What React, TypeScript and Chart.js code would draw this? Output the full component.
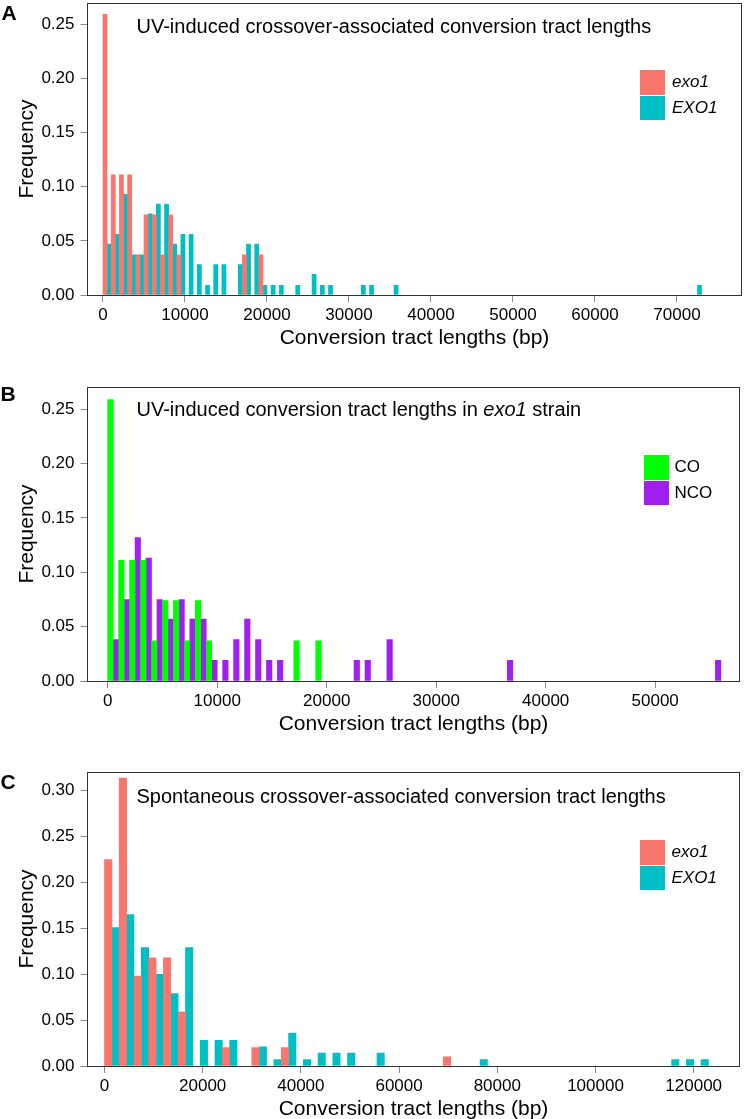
import React, { useEffect, useRef } from "react";
import { Chart, registerables } from "chart.js";

Chart.register(...registerables);

const FONT = '"Liberation Sans", Arial, Helvetica, sans-serif';

// ---------- Panel A: UV-induced crossover-associated (bin = 1000 bp) ----------
const binWidthA = 1000;
const exo1StartsA = [0, 1000, 2000, 3000, 4000, 5000, 6000, 7000, 8000, 9000, 17000, 19000];
const exo1FreqA = [0.259, 0.111, 0.111, 0.111, 0.037, 0.074, 0.074, 0.037, 0.074, 0.037, 0.037, 0.037];
const EXO1StartsA = [0, 1000, 2000, 3000, 4000, 5000, 6000, 7000, 8000, 9000, 10000, 11000, 12000, 13000, 14000, 16000, 17000, 18000, 19000, 20000, 21000, 23000, 25000, 26000, 27000, 31000, 32000, 35000, 72000];
const EXO1FreqA = [0.047, 0.056, 0.093, 0.037, 0.037, 0.075, 0.084, 0.084, 0.047, 0.056, 0.056, 0.028, 0.009, 0.028, 0.028, 0.028, 0.047, 0.047, 0.009, 0.009, 0.009, 0.009, 0.019, 0.009, 0.009, 0.009, 0.009, 0.009, 0.009];
const xTicksA = [0, 10000, 20000, 30000, 40000, 50000, 60000, 70000];
const yTicksA = [0, 0.05, 0.1, 0.15, 0.2, 0.25];

// ---------- Panel B: UV-induced in exo1 strain, CO vs NCO (bin = 1000 bp) ----------
const binWidthB = 1000;
const COStartsB = [0, 1000, 2000, 3000, 4000, 5000, 6000, 7000, 8000, 9000, 17000, 19000];
const COFreqB = [0.259, 0.111, 0.111, 0.111, 0.037, 0.074, 0.074, 0.037, 0.074, 0.037, 0.037, 0.037];
const NCOStartsB = [0, 1000, 2000, 3000, 4000, 5000, 6000, 7000, 8000, 9000, 10000, 11000, 12000, 13000, 14000, 15000, 22000, 23000, 25000, 36000, 55000];
const NCOFreqB = [0.038, 0.075, 0.132, 0.113, 0.075, 0.057, 0.075, 0.057, 0.057, 0.019, 0.019, 0.038, 0.057, 0.038, 0.019, 0.019, 0.019, 0.019, 0.038, 0.019, 0.019];
const xTicksB = [0, 10000, 20000, 30000, 40000, 50000];
const yTicksB = [0, 0.05, 0.1, 0.15, 0.2, 0.25];

// ---------- Panel C: Spontaneous crossover-associated (bin = 3000 bp) ----------
const binWidthC = 3000;
const exo1StartsC = [0, 3000, 6000, 9000, 12000, 15000, 24000, 30000, 36000, 69000];
const exo1FreqC = [0.225, 0.314, 0.098, 0.118, 0.118, 0.059, 0.02, 0.02, 0.02, 0.01];
const EXO1StartsC = [0, 3000, 6000, 9000, 12000, 15000, 18000, 21000, 24000, 30000, 33000, 36000, 39000, 42000, 45000, 48000, 54000, 75000, 114000, 117000, 120000];
const EXO1FreqC = [0.151, 0.165, 0.129, 0.1, 0.079, 0.129, 0.028, 0.028, 0.028, 0.021, 0.007, 0.036, 0.007, 0.014, 0.014, 0.014, 0.014, 0.007, 0.007, 0.007, 0.007];
const xTicksC = [0, 20000, 40000, 60000, 80000, 100000, 120000];
const yTicksC = [0, 0.05, 0.1, 0.15, 0.2, 0.25, 0.3];

const RED = "#F8766D";
const TEAL = "#00BFC4";
const GREEN = "#00FF00";
const PURPLE = "#A020F0";

type Series = { label: string; color: string; starts: number[]; freqs: number[] };
type PanelCfg = {
  boxTop: number;
  boxBottom: number;
  boxLeft: number;
  boxRight: number;
  xMin: number;
  xMax: number;
  yMax: number;
  binWidth: number;
  xTicks: number[];
  yTicks: number[];
  series: Series[];
};

const panels: PanelCfg[] = [
  {
    boxTop: 3, boxBottom: 294.5, boxLeft: 87.5, boxRight: 741.5,
    xMin: -1890, xMax: 77870, yMax: 0.2695, binWidth: binWidthA,
    xTicks: xTicksA, yTicks: yTicksA,
    series: [
      { label: "exo1", color: RED, starts: exo1StartsA, freqs: exo1FreqA },
      { label: "EXO1", color: TEAL, starts: EXO1StartsA, freqs: EXO1FreqA },
    ],
  },
  {
    boxTop: 387, boxBottom: 680.5, boxLeft: 87.5, boxRight: 739.5,
    xMin: -1845, xMax: 57700, yMax: 0.2705, binWidth: binWidthB,
    xTicks: xTicksB, yTicks: yTicksB,
    series: [
      { label: "CO", color: GREEN, starts: COStartsB, freqs: COFreqB },
      { label: "NCO", color: PURPLE, starts: NCOStartsB, freqs: NCOFreqB },
    ],
  },
  {
    boxTop: 772, boxBottom: 1065.5, boxLeft: 87.5, boxRight: 739.5,
    xMin: -3460, xMax: 129330, yMax: 0.3205, binWidth: binWidthC,
    xTicks: xTicksC, yTicks: yTicksC,
    series: [
      { label: "exo1", color: RED, starts: exo1StartsC, freqs: exo1FreqC },
      { label: "EXO1", color: TEAL, starts: EXO1StartsC, freqs: EXO1FreqC },
    ],
  },
];

const X_AXIS_H = 56;

const frameBox = {
  id: "frameBox",
  afterDraw(chart: any) {
    const { ctx, chartArea: a } = chart;
    ctx.save();
    ctx.strokeStyle = "#333333";
    ctx.lineWidth = 1;
    const l = Math.floor(a.left) + 0.5;
    const t = Math.floor(a.top) + 0.5;
    const r = Math.floor(a.right) + 0.5;
    const b = Math.floor(a.bottom) + 0.5;
    ctx.strokeRect(l, t, r - l, b - t);
    ctx.restore();
  },
};

function PanelChart({ cfg }: { cfg: PanelCfg }) {
  const ref = useRef<HTMLCanvasElement | null>(null);
  const canvasTop = cfg.boxTop - 3;
  const canvasHeight = Math.round(cfg.boxBottom - canvasTop + X_AXIS_H);

  useEffect(() => {
    if (!ref.current) return;
    const chart = new Chart(ref.current, {
      type: "bar",
      data: {
        datasets: cfg.series.map((s) => ({
          label: s.label,
          data: s.starts.map((st, i) => ({ x: st + cfg.binWidth / 2, y: s.freqs[i] })),
          backgroundColor: s.color,
          borderWidth: 0,
          categoryPercentage: 1,
          barPercentage: 1,
        })),
      },
      options: {
        animation: false,
        responsive: false,
        maintainAspectRatio: false,
        layout: { padding: { top: 3, left: 0, right: 745 - cfg.boxRight, bottom: 0 } },
        plugins: {
          legend: { display: false },
          tooltip: { enabled: false },
          title: { display: false },
        },
        scales: {
          x: {
            type: "linear",
            min: cfg.xMin,
            max: cfg.xMax,
            offset: false,
            grid: {
              offset: false,
              display: true,
              drawOnChartArea: false,
              drawTicks: true,
              tickLength: 7,
              color: "#888888",
              lineWidth: 1,
            },
            border: { display: false },
            ticks: {
              autoSkip: false,
              maxRotation: 0,
              padding: 3,
              color: "#000000",
              font: { family: FONT, size: 17 },
              callback: (v: any) => String(v),
            },
            title: {
              display: true,
              text: "Conversion tract lengths (bp)",
              color: "#000000",
              font: { family: FONT, size: 21 },
              padding: { top: 0, bottom: 0 },
            },
            afterBuildTicks: (s: any) => {
              s.ticks = cfg.xTicks.map((v) => ({ value: v }));
            },
            afterFit: (s: any) => {
              s.height = X_AXIS_H;
              s.paddingLeft = 0;
              s.paddingRight = 0;
            },
          },
          y: {
            type: "linear",
            min: 0,
            max: cfg.yMax,
            grid: {
              display: true,
              drawOnChartArea: false,
              drawTicks: true,
              tickLength: 7,
              color: "#888888",
              lineWidth: 1,
            },
            border: { display: false },
            ticks: {
              autoSkip: false,
              padding: 6,
              color: "#000000",
              font: { family: FONT, size: 17 },
              callback: (v: any) => Number(v).toFixed(2),
            },
            title: {
              display: true,
              text: "Frequency",
              color: "#000000",
              font: { family: FONT, size: 21 },
              padding: { top: 14.4, bottom: 0 },
            },
            afterBuildTicks: (s: any) => {
              s.ticks = cfg.yTicks.map((v) => ({ value: v }));
            },
            afterFit: (s: any) => {
              s.width = cfg.boxLeft;
              s.paddingTop = 0;
              s.paddingBottom = 0;
            },
          },
        },
      } as any,
      plugins: [frameBox],
    });
    return () => chart.destroy();
  }, [cfg]);

  return (
    <canvas
      ref={ref}
      width={745}
      height={canvasHeight}
      style={{ position: "absolute", left: 0, top: canvasTop, width: 745, height: canvasHeight }}
    />
  );
}

function Txt({
  left, capCenter, size, bold, italic, children,
}: {
  left: number; capCenter: number; size: number; bold?: boolean; italic?: boolean; children: React.ReactNode;
}) {
  return (
    <div
      style={{
        position: "absolute",
        left,
        top: capCenter - 0.588 * size,
        fontFamily: FONT,
        fontSize: size,
        lineHeight: `${size * 1.2}px`,
        fontWeight: bold ? "bold" : "normal",
        fontStyle: italic ? "italic" : "normal",
        whiteSpace: "nowrap",
        color: "#000",
      }}
    >
      {children}
    </div>
  );
}

function Swatch({ left, top, h, color }: { left: number; top: number; h: number; color: string }) {
  return <div style={{ position: "absolute", left, top, width: 25, height: h, background: color }} />;
}

export default function App() {
  return (
    <div
      style={{
        position: "absolute",
        left: 0,
        top: 0,
        width: 745,
        height: 1119,
        overflow: "hidden",
        background: "#ffffff",
      }}
    >
      {panels.map((p, i) => (
        <PanelChart key={i} cfg={p} />
      ))}

      {/* Panel letters */}
      <Txt left={1.5} capCenter={12.5} size={21} bold>A</Txt>
      <Txt left={0.5} capCenter={393.4} size={21} bold>B</Txt>
      <Txt left={0.5} capCenter={781.5} size={21} bold>C</Txt>

      {/* Panel titles */}
      <Txt left={136.5} capCenter={25.8} size={20}>UV-induced crossover-associated conversion tract lengths</Txt>
      <Txt left={136.5} capCenter={409.2} size={20}>
        UV-induced conversion tract lengths in <i>exo1</i> strain
      </Txt>
      <Txt left={136.5} capCenter={796.2} size={20}>Spontaneous crossover-associated conversion tract lengths</Txt>

      {/* Legend A */}
      <Swatch left={639.5} top={70} h={24.5} color={RED} />
      <Swatch left={639.5} top={95.5} h={24.5} color={TEAL} />
      <Txt left={672} capCenter={82.2} size={17} italic>exo1</Txt>
      <Txt left={672} capCenter={107.8} size={17} italic>EXO1</Txt>

      {/* Legend B */}
      <Swatch left={643.5} top={455} h={24.5} color={GREEN} />
      <Swatch left={643.5} top={480.5} h={24.5} color={PURPLE} />
      <Txt left={674.5} capCenter={467.2} size={17}>CO</Txt>
      <Txt left={674.5} capCenter={492.8} size={17}>NCO</Txt>

      {/* Legend C */}
      <Swatch left={639.5} top={840} h={24.5} color={RED} />
      <Swatch left={639.5} top={865.5} h={24.5} color={TEAL} />
      <Txt left={671.5} capCenter={852.2} size={17} italic>exo1</Txt>
      <Txt left={671.5} capCenter={878} size={17} italic>EXO1</Txt>
    </div>
  );
}
